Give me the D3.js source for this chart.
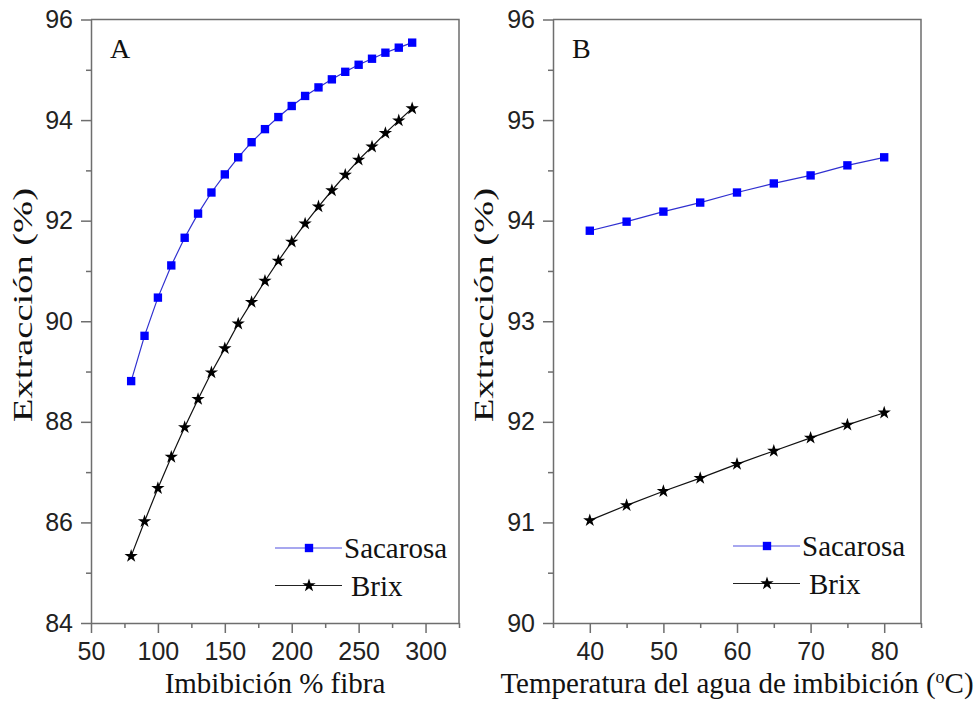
<!DOCTYPE html>
<meta charset="utf-8">
<style>
body { margin: 0; background: #fff; }
.tickLbl text { font-family: "Liberation Sans", Arial, sans-serif; font-size: 25px; fill: #222; }
.serif { font-family: "Liberation Serif", "Times New Roman", serif; fill: #111; }
</style>
<svg id="chart" width="978" height="717"></svg>
<script src="https://d3js.org/d3.v7.min.js"></script>
<script>

// panel A data: imbibition % fibre
var imbA = [80, 90, 100, 110, 120, 130, 140, 150, 160, 170, 180, 190, 200, 210, 220, 230, 240, 250, 260, 270, 280, 290];
var sacA = [88.81, 89.71, 90.47, 91.11, 91.66, 92.14, 92.56, 92.92, 93.26, 93.56, 93.82, 94.06, 94.28, 94.48, 94.65, 94.81, 94.96, 95.10, 95.22, 95.34, 95.44, 95.54];
var brixA = [85.33, 86.02, 86.68, 87.30, 87.89, 88.45, 88.98, 89.46, 89.95, 90.38, 90.80, 91.20, 91.58, 91.94, 92.28, 92.60, 92.91, 93.21, 93.47, 93.74, 93.99, 94.23];

// panel B data: water temperature
var tempB = [40, 45, 50, 55, 60, 65, 70, 75, 80];
var sacB = [93.90, 93.99, 94.09, 94.18, 94.28, 94.37, 94.45, 94.55, 94.63];
var brixB = [91.02, 91.17, 91.31, 91.44, 91.58, 91.71, 91.84, 91.97, 92.09];

// tick values
var xTicksA = [50, 100, 150, 200, 250, 300];
var xMinorA = [75, 125, 175, 225, 275, 325];
var yTicksA = [84, 86, 88, 90, 92, 94, 96];
var yMinorA = [85, 87, 89, 91, 93, 95];
var xTicksB = [40, 50, 60, 70, 80];
var xMinorB = [35, 45, 55, 65, 75, 85];
var yTicksB = [90, 91, 92, 93, 94, 95, 96];
var yMinorB = [90.5, 91.5, 92.5, 93.5, 94.5, 95.5];

var seriesNames = ["Sacarosa", "Brix"];

var svg = d3.select("#chart");
var axisColor = "#6e6e6e";

function drawPanel(p) {
  var x = d3.scaleLinear().domain(p.xDomain).range([p.left, p.right]);
  var y = d3.scaleLinear().domain(p.yDomain).range([p.bottom, p.top]);
  var g = svg.append("g");

  // frame top + right
  g.append("path")
    .attr("d", "M" + p.left + "," + p.top + " L" + p.right + "," + p.top + " L" + p.right + "," + p.bottom)
    .attr("fill", "none")
    .attr("stroke", axisColor)
    .attr("stroke-width", 1.5);

  // minor ticks
  g.append("g")
    .attr("transform", "translate(0," + p.bottom + ")")
    .call(d3.axisBottom(x).tickValues(p.xMinor).tickSize(5).tickFormat(""))
    .call(function(s) { s.select(".domain").remove(); s.selectAll("line").attr("stroke", axisColor).attr("stroke-width", 1.5); });
  g.append("g")
    .attr("transform", "translate(" + p.left + ",0)")
    .call(d3.axisLeft(y).tickValues(p.yMinor).tickSize(5).tickFormat(""))
    .call(function(s) { s.select(".domain").remove(); s.selectAll("line").attr("stroke", axisColor).attr("stroke-width", 1.5); });

  // major axes
  var xa = g.append("g")
    .attr("class", "tickLbl")
    .attr("transform", "translate(0," + p.bottom + ")")
    .call(d3.axisBottom(x).tickValues(p.xTicks).tickSize(10).tickSizeOuter(0).tickPadding(9).tickFormat(d3.format("d")));
  var ya = g.append("g")
    .attr("class", "tickLbl")
    .attr("transform", "translate(" + p.left + ",0)")
    .call(d3.axisLeft(y).tickValues(p.yTicks).tickSize(10).tickSizeOuter(0).tickPadding(8).tickFormat(d3.format("d")));
  [xa, ya].forEach(function(a) {
    a.select(".domain").attr("stroke", axisColor).attr("stroke-width", 1.5);
    a.selectAll("line").attr("stroke", axisColor).attr("stroke-width", 1.5);
    a.attr("font-family", null).attr("font-size", null);
  });

  var line = d3.line()
    .x(function(d) { return x(d[0]); })
    .y(function(d) { return y(d[1]); });

  var sData = p.xs.map(function(v, i) { return [v, p.sac[i]]; });
  var bData = p.xs.map(function(v, i) { return [v, p.brix[i]]; });

  g.append("path").datum(sData).attr("d", line)
    .attr("fill", "none").attr("stroke", "#3030d0").attr("stroke-width", 1.2);
  g.append("path").datum(bData).attr("d", line)
    .attr("fill", "none").attr("stroke", "#111").attr("stroke-width", 1.2);

  g.selectAll(".sq").data(sData).enter().append("path")
    .attr("class", "sq")
    .attr("transform", function(d) { return "translate(" + x(d[0]) + "," + y(d[1]) + ")"; })
    .attr("d", d3.symbol().type(d3.symbolSquare).size(70))
    .attr("fill", "#0000ff");
  g.selectAll(".st").data(bData).enter().append("path")
    .attr("class", "st")
    .attr("transform", function(d) { return "translate(" + x(d[0]) + "," + y(d[1]) + ")"; })
    .attr("d", d3.symbol().type(d3.symbolStar).size(55))
    .attr("fill", "#000");

  // panel letter
  g.append("text").attr("class", "serif")
    .attr("x", p.left + 19).attr("y", 58)
    .style("font-size", "28px")
    .text(p.letter);

  // axis titles
  g.append("text").attr("class", "serif")
    .attr("x", (p.left + p.right) / 2).attr("y", 693)
    .attr("text-anchor", "middle")
    .style("font-size", "29px")
    .html(p.xTitle);
  g.append("text").attr("class", "serif")
    .attr("transform", "translate(" + p.yTitleX + "," + 305 + ") rotate(-90)")
    .attr("text-anchor", "middle")
    .attr("textLength", 234)
    .attr("lengthAdjust", "spacingAndGlyphs")
    .style("font-size", "27px")
    .text("Extracción (%)");

  // legend
  var lg = g.append("g");
  var rows = [p.legY, p.legY + 37.5];
  lg.append("line").attr("x1", p.legX).attr("x2", p.legX + 67).attr("y1", rows[0]).attr("y2", rows[0])
    .attr("stroke", "#5050e0").attr("stroke-width", 1.2);
  lg.append("path").attr("transform", "translate(" + (p.legX + 34) + "," + rows[0] + ")")
    .attr("d", d3.symbol().type(d3.symbolSquare).size(70)).attr("fill", "#0000ff");
  lg.append("line").attr("x1", p.legX).attr("x2", p.legX + 67).attr("y1", rows[1]).attr("y2", rows[1])
    .attr("stroke", "#222").attr("stroke-width", 1.2);
  lg.append("path").attr("transform", "translate(" + (p.legX + 34) + "," + rows[1] + ")")
    .attr("d", d3.symbol().type(d3.symbolStar).size(55)).attr("fill", "#000");
  lg.append("text").attr("class", "serif")
    .attr("x", p.legX + 69).attr("y", rows[0] + 10)
    .style("font-size", "29px")
    .text(seriesNames[0]);
  lg.append("text").attr("class", "serif")
    .attr("x", p.legX + 76).attr("y", rows[1] + 10)
    .style("font-size", "29px")
    .text(seriesNames[1]);
}

drawPanel({
  left: 91, right: 459, top: 19.5, bottom: 623,
  xDomain: [50, 325], yDomain: [84, 96],
  xTicks: xTicksA, xMinor: xMinorA, yTicks: yTicksA, yMinor: yMinorA,
  xs: imbA, sac: sacA, brix: brixA,
  letter: "A",
  xTitle: "Imbibición % fibra",
  yTitleX: 32,
  legX: 275, legY: 548
});

drawPanel({
  left: 553, right: 921, top: 19.5, bottom: 623,
  xDomain: [35, 85], yDomain: [90, 96],
  xTicks: xTicksB, xMinor: xMinorB, yTicks: yTicksB, yMinor: yMinorB,
  xs: tempB, sac: sacB, brix: brixB,
  letter: "B",
  xTitle: "Temperatura del agua de imbibición (<tspan dy='-10' font-size='18px'>o</tspan><tspan dy='10'>C)</tspan>",
  yTitleX: 493,
  legX: 733, legY: 546
});

</script>
